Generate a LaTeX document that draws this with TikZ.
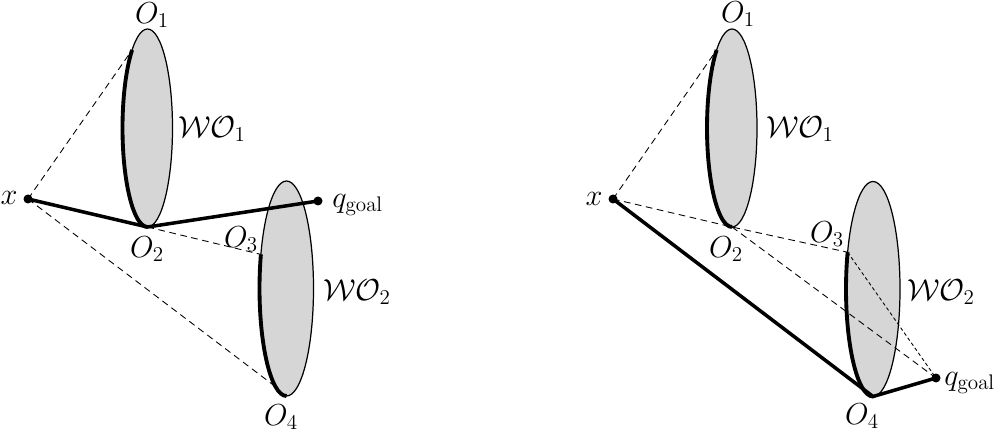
\documentclass[tikz,border=0pt]{standalone}
\DeclareMathSizes{16}{16}{12.5}{10}
\begin{document}
\begin{tikzpicture}[x=0.02cm, y=-0.02cm,
  obst/.style={fill=black!16, draw, line width=0.7pt},
  route/.style={line width=2pt},
  seen/.style={line width=2.2pt},
  sight/.style={line width=0.5pt, dash pattern=on 3.8pt off 2.6pt},
  fine/.style={line width=0.5pt, dash pattern=on 2pt off 1.5pt},
  lbl/.style={font=\fontsize{16}{19}\selectfont, inner sep=0pt}]
  \useasboundingbox (0,0) rectangle (1000,432);

  % left: route over O2
  \coordinate (E1) at (147.5,128);
  \coordinate (E2) at (286.5,288.5);
  \coordinate (x) at (28,199);
  \coordinate (qg) at (318,201);
  \path (E1) ++(232:25 and 99) coordinate (O1);
  \path (E1) ++(90:25 and 99) coordinate (O2);
  \path (E2) ++(198.5:27 and 107.5) coordinate (O3);
  \path (E2) ++(114:27 and 107.5) coordinate (O4);

  \draw[obst] (E1) ellipse[x radius=25, y radius=99];
  \draw[obst] (E2) ellipse[x radius=27, y radius=107.5];

  \draw[sight] (x) -- (O1);
  \draw[sight] (x) -- (O4);
  \draw[sight] (O2) -- (O3);
  \draw[seen] (O1) arc[start angle=232, end angle=90, x radius=25, y radius=99];
  \draw[seen] (O3) arc[start angle=198.5, end angle=90, x radius=27, y radius=107.5];
  \draw[route] (x) -- (O2) -- (qg);
  \fill (x) circle[radius=4.5];
  \fill (qg) circle[radius=4.5];

  \node[lbl] (lO1) at (152,15) {$O_1$};
  \node[lbl] (lW1) at (212,129) {$\mathcal{W}\mathcal{O}_1$};
  \node[lbl] (lx) at (9,198) {$x$};
  \node[lbl] (lO2) at (147,249) {$O_2$};
  \node[lbl] (lO3) at (241,239) {$O_3$};
  \node[lbl, anchor=west] (lqg) at (332,205) {$q_{\mathrm{goal}}$};
  \node[lbl] (lW2) at (357,292) {$\mathcal{W}\mathcal{O}_2$};
  \node[lbl] (lO4) at (281,417) {$O_4$};

  % right: route over O4
  \coordinate (F1) at (732,128);
  \coordinate (F2) at (873,289);
  \coordinate (xr) at (613,199);
  \coordinate (qgr) at (936,378);
  \path (F1) ++(232:25 and 99) coordinate (O1r);
  \path (F1) ++(90:25 and 99) coordinate (O2r);
  \path (F2) ++(200:27 and 107.5) coordinate (O3r);
  \path (F2) ++(90:27 and 107.5) coordinate (O4r);

  \draw[obst] (F1) ellipse[x radius=25, y radius=99];
  \draw[obst] (F2) ellipse[x radius=27, y radius=107.5];

  \draw[sight] (xr) -- (O1r);
  \draw[sight] (xr) -- (O2r) -- (O3r);
  \draw[sight] (O2r) -- (qgr);
  \draw[fine] (O3r) -- (qgr);
  \draw[seen] (O1r) arc[start angle=232, end angle=90, x radius=25, y radius=99];
  \draw[seen] (O3r) arc[start angle=200, end angle=90, x radius=27, y radius=107.5];
  \draw[route] (xr) -- (O4r) -- (qgr);
  \fill (xr) circle[radius=4.5];
  \fill (qgr) circle[radius=4.5];

  \node[lbl] (rO1) at (738,14) {$O_1$};
  \node[lbl] (rW1) at (800,129) {$\mathcal{W}\mathcal{O}_1$};
  \node[lbl] (rx) at (594,199) {$x$};
  \node[lbl] (rO2) at (726,249) {$O_2$};
  \node[lbl] (rO3) at (827,234) {$O_3$};
  \node[lbl] (rW2) at (941,292) {$\mathcal{W}\mathcal{O}_2$};
  \node[lbl, anchor=west] (rqg) at (944,383) {$q_{\mathrm{goal}}$};
  \node[lbl] (rO4) at (862,416) {$O_4$};
\end{tikzpicture}
\end{document}
